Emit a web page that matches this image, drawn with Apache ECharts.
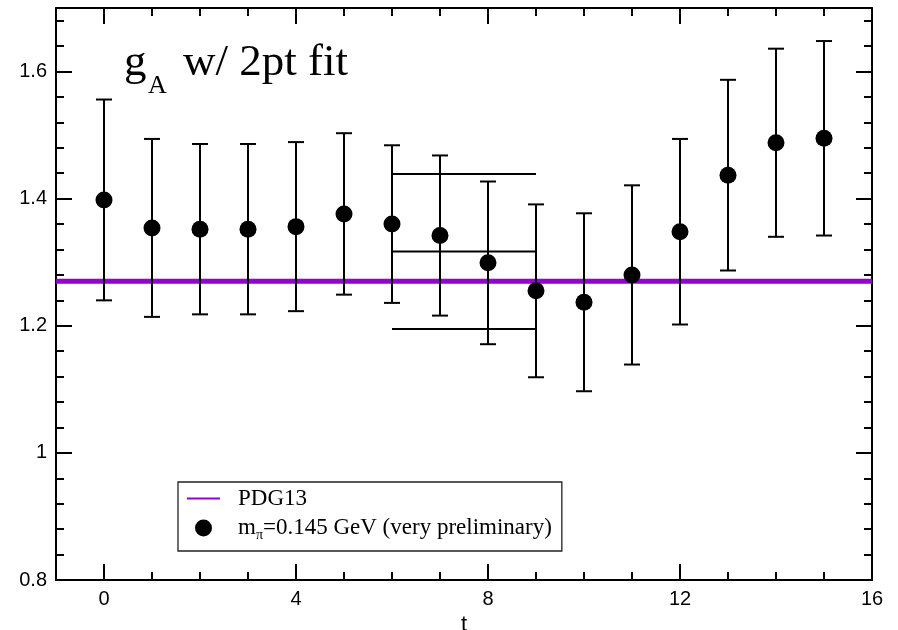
<!DOCTYPE html>
<html>
<head>
<meta charset="utf-8">
<title>g_A w/ 2pt fit</title>
<script src="https://cdn.jsdelivr.net/npm/echarts@6/dist/echarts.min.js"></script>
<style>
  html, body { margin: 0; padding: 0; background: #fff; }
  #chart { width: 898px; height: 630px; }
</style>
</head>
<body>
<div id="chart"></div>
<script>
// Effective axial charge g_A versus source-sink separation t
const tValues = [0, 1, 2, 3, 4, 5, 6, 7, 8, 9, 10, 11, 12, 13, 14, 15];
const gAValues = [1.398, 1.354, 1.352, 1.352, 1.356, 1.376, 1.360, 1.342, 1.299, 1.255, 1.237, 1.280, 1.348, 1.437, 1.488, 1.495];
const gAErrors = [0.158, 0.140, 0.134, 0.134, 0.133, 0.127, 0.124, 0.126, 0.128, 0.136, 0.140, 0.141, 0.146, 0.150, 0.148, 0.153];

// Two-point fit result over the fit window
const fitRange = [6, 9];
const fitValue = 1.317;
const fitError = 0.122;

// PDG 2013 reference value
const pdgValue = 1.2701;

// Axis ticks
const xMajorTicks = [0, 4, 8, 12, 16];
const yMajorTicks = [0.8, 1.0, 1.2, 1.4, 1.6];

const X_MIN = -1, X_MAX = 16, Y_MIN = 0.8, Y_MAX = 1.7;
const SANS = 'Liberation Sans, Arial, Helvetica, sans-serif';
const SERIF = 'Liberation Serif, Times New Roman, serif';

const points = tValues.map((t, i) => [t, gAValues[i]]);
const bars = tValues.map((t, i) => [t, gAValues[i] - gAErrors[i], gAValues[i] + gAErrors[i]]);
const fitLines = [fitValue + fitError, fitValue, fitValue - fitError];

function errorBar(params, api) {
  const x = api.value(0);
  const lo = api.coord([x, api.value(1)]);
  const hi = api.coord([x, api.value(2)]);
  const cap = 8;
  const style = { stroke: '#000', lineWidth: 2 };
  return {
    type: 'group',
    children: [
      { type: 'line', shape: { x1: lo[0], y1: lo[1], x2: hi[0], y2: hi[1] }, style },
      { type: 'line', shape: { x1: lo[0] - cap, y1: lo[1], x2: lo[0] + cap, y2: lo[1] }, style },
      { type: 'line', shape: { x1: hi[0] - cap, y1: hi[1], x2: hi[0] + cap, y2: hi[1] }, style }
    ]
  };
}

function majorX(position, showLabels) {
  return {
    type: 'value', position, min: X_MIN, max: X_MAX,
    axisLine: { show: true, onZero: false, lineStyle: { color: '#000', width: 2 } },
    axisTick: { show: true, inside: true, length: 16, customValues: xMajorTicks, lineStyle: { color: '#000', width: 2 } },
    axisLabel: showLabels
      ? { show: true, customValues: xMajorTicks, margin: 9, fontFamily: SANS, fontSize: 20, color: '#000' }
      : { show: false },
    splitLine: { show: false },
    name: showLabels ? 't' : '',
    nameLocation: 'middle',
    nameGap: 31,
    nameTextStyle: { fontFamily: SANS, fontSize: 22, color: '#000' }
  };
}
function minorX(position) {
  return {
    type: 'value', position, min: X_MIN, max: X_MAX, interval: 1,
    axisLine: { show: false, onZero: false },
    axisTick: { show: true, inside: true, length: 8, lineStyle: { color: '#000', width: 2 } },
    axisLabel: { show: false },
    splitLine: { show: false }
  };
}
function majorY(position, showLabels) {
  return {
    type: 'value', position, min: Y_MIN, max: Y_MAX,
    axisLine: { show: true, onZero: false, lineStyle: { color: '#000', width: 2 } },
    axisTick: { show: true, inside: true, length: 16, customValues: yMajorTicks, lineStyle: { color: '#000', width: 2 } },
    axisLabel: showLabels
      ? { show: true, customValues: yMajorTicks, margin: 9, fontFamily: SANS, fontSize: 20, color: '#000' }
      : { show: false },
    splitLine: { show: false }
  };
}
function minorY(position) {
  return {
    type: 'value', position, min: Y_MIN, max: Y_MAX, interval: 0.04,
    axisLine: { show: false, onZero: false },
    axisTick: { show: true, inside: true, length: 8, lineStyle: { color: '#000', width: 2 } },
    axisLabel: { show: false },
    splitLine: { show: false }
  };
}

const chart = echarts.init(document.getElementById('chart'), null, { renderer: 'canvas' });

chart.setOption({
  backgroundColor: '#fff',
  animation: false,
  grid: { left: 56, right: 26, top: 8, bottom: 50, containLabel: false, outerBoundsMode: 'none' },
  xAxis: [majorX('bottom', true), minorX('bottom'), majorX('top', false), minorX('top')],
  yAxis: [majorY('left', true), minorY('left'), majorY('right', false), minorY('right')],
  legend: {
    orient: 'vertical',
    left: 178, top: 482,
    padding: [5, 10, 9, 9],
    itemGap: 4,
    itemWidth: 33,
    itemHeight: 17,
    symbolKeepAspect: true,
    borderColor: '#222',
    borderWidth: 1.3,
    backgroundColor: '#fff',
    data: [
      { name: 'PDG13', icon: 'path://M0,0 L33,0 L33,2 L0,2 Z', itemStyle: { color: '#9400d3' } },
      { name: 'mpi' }
    ],
    formatter: name => name === 'PDG13'
      ? '{n|PDG13}'
      : '{n|m}{s|π}{n|=0.145 GeV (very preliminary)}',
    textStyle: {
      color: '#000',
      padding: [0, 0, 0, 13],
      rich: {
        n: { fontFamily: SERIF, fontSize: 23, lineHeight: 24, color: '#000' },
        s: { fontFamily: SERIF, fontSize: 14, lineHeight: 10, padding: [14, 0, 0, 0], color: '#000' }
      }
    }
  },
  graphic: [
    { type: 'text', x: 124, y: 63, z: 10,
      style: { text: 'g', fontFamily: SERIF, fontSize: 45, fill: '#000', verticalAlign: 'middle' } },
    { type: 'text', x: 148, y: 86, z: 10,
      style: { text: 'A', fontFamily: SERIF, fontSize: 26, fill: '#000', verticalAlign: 'middle' } },
    { type: 'text', x: 183, y: 63, z: 10,
      style: { text: 'w/ 2pt fit', fontFamily: SERIF, fontSize: 45, fill: '#000', verticalAlign: 'middle' } }
  ],
  series: [
    {
      name: 'PDG13', type: 'line', symbol: 'none', z: 1,
      data: [[X_MIN, pdgValue], [X_MAX, pdgValue]],
      lineStyle: { color: '#9400d3', width: 5 },
      itemStyle: { color: '#9400d3' }
    },
    ...fitLines.map(v => ({
      name: 'fit', type: 'line', symbol: 'none', z: 2, silent: true,
      data: [[fitRange[0], v], [fitRange[1], v]],
      lineStyle: { color: '#000', width: 2 }
    })),
    {
      name: 'bars', type: 'custom', z: 3, renderItem: errorBar,
      data: bars, encode: { x: 0, y: [1, 2] }
    },
    {
      name: 'mpi', type: 'scatter', z: 4, symbol: 'circle', symbolSize: 17,
      data: points, itemStyle: { color: '#000', opacity: 1 }
    }
  ]
});
</script>
</body>
</html>
